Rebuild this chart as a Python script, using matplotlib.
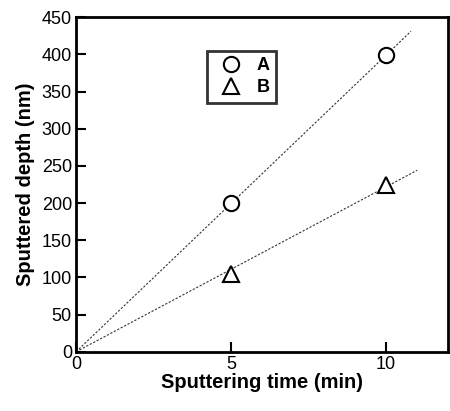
import matplotlib
matplotlib.use("Agg")
import numpy as np
import matplotlib.pyplot as plt

plt.rcParams["font.family"] = ["Liberation Sans", "DejaVu Sans"]

time_min = np.array([5, 10])
depth_a = np.array([200, 399])
depth_b = np.array([105, 225])

# least-squares fits through the origin
slope_a = (time_min * depth_a).sum() / (time_min ** 2).sum()
slope_b = (time_min * depth_b).sum() / (time_min ** 2).sum()

fig = plt.figure(figsize=(4.5, 4.11), dpi=100)
ax = fig.add_axes([0.169, 0.144, 0.827, 0.814])

x_fit_a = np.array([0, 10.8])
x_fit_b = np.array([0, 11.0])
ax.plot(x_fit_a, slope_a * x_fit_a, ls=(0, (2, 1.5)), color="#333333", lw=0.8)
ax.plot(x_fit_b, slope_b * x_fit_b, ls=(0, (2, 1.5)), color="#333333", lw=0.8)

ax.plot(time_min, depth_a, "o", ms=11, mfc="white", mec="black", mew=1.5, label="A")
ax.plot(time_min, depth_b, "^", ms=12, mfc="white", mec="black", mew=1.5, label="B")

ax.set_xlim(0, 12)
ax.set_ylim(0, 450)
ax.set_xticks([0, 5, 10])
ax.set_yticks(range(0, 451, 50))
ax.tick_params(direction="in", length=7, width=1.5, labelsize=13, pad=3)
for sp in ax.spines.values():
    sp.set_linewidth(2)

ax.set_xlabel("Sputtering time (min)", fontsize=14.5, fontweight="bold", labelpad=0)
ax.set_ylabel("Sputtered depth (nm)", fontsize=14.5, fontweight="bold", labelpad=5)

leg = ax.legend(loc="upper left", bbox_to_anchor=(0.352, 0.9), borderaxespad=0,
                frameon=True, fancybox=False, edgecolor="black", handletextpad=0.4,
                borderpad=0.35, labelspacing=0.3, handlelength=2.0,
                prop={"weight": "bold", "size": 13})
leg.get_frame().set_linewidth(2)

fig.savefig("out.png", dpi=100)
